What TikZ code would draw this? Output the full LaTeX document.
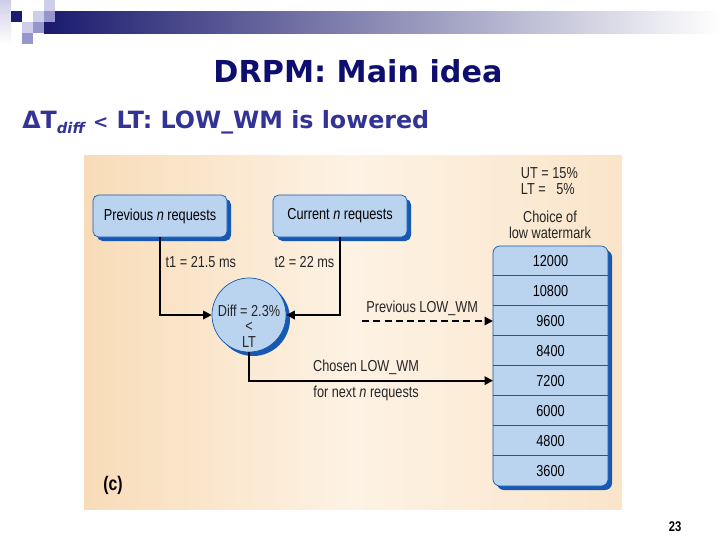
\documentclass[tikz,border=0pt]{standalone}
\usepackage{fontspec}
\setmainfont{Liberation Sans}
\newfontfamily\narrowfont[FakeStretch=0.8]{Liberation Sans}
\newfontfamily\headfont{DejaVu Sans}
\usepackage{xcolor}
\usetikzlibrary{arrows.meta,positioning,shadows}
\definecolor{bandnavy}{RGB}{26,26,110}
\definecolor{titlenavy}{RGB}{14,14,110}
\definecolor{subblue}{RGB}{51,51,150}
\definecolor{lavlight}{RGB}{206,206,234}
\definecolor{lavmid}{RGB}{150,150,204}
\definecolor{peachdark}{RGB}{248,220,184}
\definecolor{peachlight}{RGB}{253,242,228}
\definecolor{boxblue}{RGB}{186,212,240}
\definecolor{shadeblue}{RGB}{22,88,178}

\begin{document}
\begin{tikzpicture}[
    x=0.025cm, y=-0.025cm,
    capbox/.style={draw=shadeblue, line width=0.5pt, fill=boxblue, rounded corners=4pt,
        minimum width=3.35cm, minimum height=1.05cm, font=\narrowfont\fontsize{11.3}{11}\selectfont,
        drop shadow={shadow xshift=0.1cm, shadow yshift=-0.1cm, fill=shadeblue, opacity=1}},
    diffdot/.style={circle, draw=shadeblue, line width=0.5pt, fill=boxblue, minimum size=1.85cm,
        drop shadow={shadow xshift=0.1cm, shadow yshift=-0.1cm, fill=shadeblue, opacity=1}},
    wmrow/.style={minimum width=2.875cm, minimum height=0.75cm, inner sep=0pt, outer sep=0pt,
        font=\narrowfont\fontsize{11.3}{11}\selectfont},
    figtext/.style={font=\narrowfont\fontsize{11.3}{11}\selectfont, align=center, text=black!85},
    link/.style={->, line width=1.4pt},
    >={Stealth[inset=0pt, length=6pt, width=6pt]}
]
\useasboundingbox (0,0) rectangle (720,540);
\fill[white] (0,0) rectangle (720,540);

% slide banner
\shade[left color=bandnavy, right color=white] (44,11) rectangle (720,33);
\shade[top color=lavlight, bottom color=white] (0,0) rectangle (11,44);
\fill[bandnavy] (11,11) rectangle (22,22);
\fill[lavlight] (33,11) rectangle (44,22);
\fill[lavlight] (44,0) rectangle (55,11);
\fill[lavmid] (44,11) rectangle (55,22);
\fill[lavmid] (33,22) rectangle (44,33);
\fill[lavlight] (22,22) rectangle (33,33);
\fill[lavmid] (22,33) rectangle (33,44);

\node[font=\headfont\bfseries\fontsize{21.5}{24}\selectfont, text=titlenavy, anchor=base] (title) at (358,82) {DRPM: Main idea};
\node[font=\headfont\bfseries\fontsize{16.9}{18}\selectfont, text=subblue, anchor=base west, inner sep=0pt] (subtitle) at (22,128)
    {ΔT\raisebox{-0.4ex}{\fontsize{10.5}{10}\selectfont\itshape diff} {\fontsize{13}{13}\selectfont<} LT: LOW\_WM is lowered};

% figure panel
\shade[left color=peachdark, right color=peachdark!60!peachlight, middle color=peachlight] (84,155) rectangle (622,509);

\node[capbox] (prevreq) at (160,216) {Previous \textit{n} requests};
\node[capbox] (currreq) at (340,216) {Current \textit{n} requests};
\node[diffdot] (diff) at (249,315) {};
\node[figtext] (difftext) at (249,326) {Diff = 2.3\%\\<\\LT};

\node[figtext, align=left, anchor=west] (limits) at (516,181) {UT = 15\%\\LT = \phantom{1}5\%};
\node[figtext] (choice) at (550,225) {Choice of\\low watermark};

% watermark table
\node[capbox, rounded corners=5pt, minimum width=2.875cm, minimum height=6cm] (wmtable) at (550.5,366) {};
\node[wmrow, below=0pt of wmtable.north] (r1) {12000};
\node[wmrow, below=0pt of r1] (r2) {10800};
\node[wmrow, below=0pt of r2] (r3) {9600};
\node[wmrow, below=0pt of r3] (r4) {8400};
\node[wmrow, below=0pt of r4] (r5) {7200};
\node[wmrow, below=0pt of r5] (r6) {6000};
\node[wmrow, below=0pt of r6] (r7) {4800};
\node[wmrow, below=0pt of r7] (r8) {3600};
\foreach \i in {1,...,7}
    \draw[shadeblue, line width=0.8pt] (r\i.south west) -- (r\i.south east);

\draw[link] (prevreq.south) |- (diff.west) node[pos=0.16, right, figtext] {t1 = 21.5 ms};
\draw[link] (currreq.south) |- (diff.east) node[pos=0.16, left, figtext] {t2 = 22 ms};

\coordinate (prevwm) at (362,321);
\draw[link, dash pattern=on 5pt off 3pt] (prevwm) -- (prevwm -| r3.west)
    node[pos=0.46, above, figtext] {Previous LOW\_WM};
\draw[link] (diff.south) |- (r5.west)
    node[pos=0.74, above, figtext] {Chosen LOW\_WM}
    node[pos=0.74, below, figtext] {for next \textit{n} requests};

\node[font=\narrowfont\bfseries\fontsize{14}{16}\selectfont] (panel) at (113,485) {(c)};
\node[font=\narrowfont\bfseries\fontsize{10}{12}\selectfont] (pagenum) at (675,527) {23};

\end{tikzpicture}
\end{document}
